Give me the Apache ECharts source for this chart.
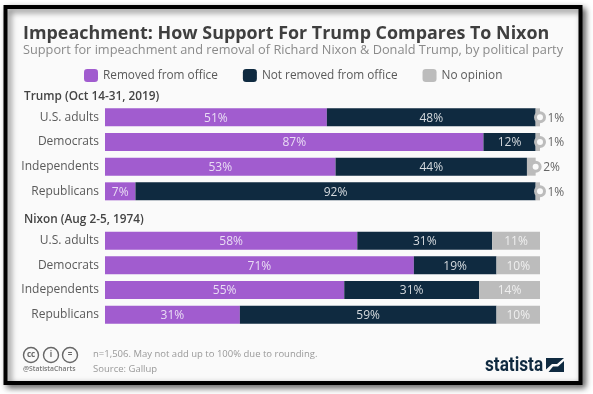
<!DOCTYPE html>
<html><head><meta charset="utf-8">
<style>html,body{margin:0;padding:0;background:#fff}#c{width:593px;height:394px}</style>
<script src="https://cdn.jsdelivr.net/npm/echarts@6/dist/echarts.min.js"></script>
</head><body><div id="c"></div>
<script>
const categories = ['U.S. adults','Democrats','Independents','Republicans','','U.S. adults','Democrats','Independents','Republicans'];
const removed    = [51,87,53,7,null,58,71,55,31];
const notRemoved = [48,12,44,92,null,31,19,31,59];
const noOpinion  = [1,1,2,1,null,11,10,14,10];
const outsideLabelRows = [0,1,2,3];
const seriesNames = ['Removed from office','Not removed from office','No opinion'];
const colors = ['#a15ccf','#0f2a40','#bcbcbc'];
const titleText = 'Impeachment: How Support For Trump Compares To Nixon';
const subtitleText = 'Support for impeachment and removal of Richard Nixon & Donald Trump, by political party';
const groupTrump = 'Trump (Oct 14-31, 2019)';
const groupNixon = 'Nixon (Aug 2-5, 1974)';
const noteText = 'n=1,506. May not add up to 100% due to rounding.';
const sourceText = 'Source: Gallup';

const FONT = '"Open Sans", sans-serif';
const chart = echarts.init(document.getElementById('c'), null, {renderer:'canvas'});

const barLabel = (color) => ({show:true, position:'inside', offset:[0,1], color, fontFamily:FONT, fontSize:12,
  formatter:p => p.value == null ? '' : p.value + '%'});

const ringData = outsideLabelRows.map(i => ({
  value:[removed[i]+notRemoved[i]+noOpinion[i], i], pct:noOpinion[i]
}));

const txt = (x,y,text,size,color,weight,extra) => ({type:'text', x, y, z:20, silent:true,
  style:Object.assign({text, fontFamily:FONT, fontSize:size, fill:color, fontWeight:weight||'normal', textVerticalAlign:'middle'}, extra||{})});

const ccIcon = (cx,label) => ([
  {type:'circle', z:20, shape:{cx,cy:355,r:7.5}, style:{fill:'none',stroke:'#666',lineWidth:1.4}},
  {type:'text', z:20, x:cx, y:355, style:{text:label,fontFamily:FONT,fontSize:8,fontWeight:'bold',fill:'#666',textAlign:'center',textVerticalAlign:'middle'}}
]);

chart.setOption({
  animation:false,
  backgroundColor:'#fff',
  title:[
    {text:titleText, left:18, top:20, textStyle:{fontFamily:FONT,fontSize:17.9,fontWeight:'bold',color:'#3f3f3f'}},
    {text:subtitleText, left:18, top:39, textStyle:{fontFamily:FONT,fontSize:12.75,fontWeight:'normal',color:'#8a8a8a'}}
  ],
  legend:{
    data:seriesNames, left:79, top:64, itemWidth:14, itemHeight:13, itemGap:25, icon:'roundRect',
    textStyle:{fontFamily:FONT,fontSize:11.8,color:'#5a5a5a',padding:[0,0,0,0]}
  },
  grid:{left:105, width:435, top:105, height:222},
  xAxis:{type:'value', min:0, max:100, show:false},
  yAxis:{type:'category', inverse:true, data:categories,
    axisLine:{show:false}, axisTick:{show:false}, splitLine:{show:false},
    axisLabel:{fontFamily:FONT,fontSize:12,color:'#5a5a5a',margin:6,interval:0,padding:[2,0,0,0]}},
  series:[
    {name:seriesNames[0],type:'bar',stack:'t',barWidth:18,data:removed,itemStyle:{color:colors[0]},label:barLabel('#e9dcf4')},
    {name:seriesNames[1],type:'bar',stack:'t',barWidth:18,data:notRemoved,itemStyle:{color:colors[1]},label:barLabel('#d5dade')},
    {name:seriesNames[2],type:'bar',stack:'t',barWidth:18,data:noOpinion.map((v,i)=>({value:v,
        label:{show:!outsideLabelRows.includes(i)}})),itemStyle:{color:colors[2]},label:barLabel('#efefef')},
    {name:'ring',type:'scatter',symbol:'circle',symbolSize:9,z:10,data:ringData,
      itemStyle:{color:'#fafafa',borderColor:colors[2],borderWidth:3,opacity:1},
      label:{show:true,position:'right',distance:1.5,offset:[0,1],fontFamily:FONT,fontSize:12,color:'#666',
        formatter:p=>p.data.pct+'%'}}
  ],
  graphic:[
    {type:'rect', z:-10, shape:{x:5.5,y:7,width:575,height:376},
      style:{fill:'#fafafa',stroke:'#000',lineWidth:4,shadowBlur:6,shadowColor:'rgba(0,0,0,0.55)',shadowOffsetX:3,shadowOffsetY:3}},
    txt(24,97,groupTrump,11.8,'#444','600'),
    txt(24,220,groupNixon,11.8,'#444','600'),
    ...ccIcon(31,'cc'), ...ccIcon(51,'i'), ...ccIcon(70,'='),
    txt(23,369,'@StatistaCharts',6.8,'#777','600'),
    txt(93,354,noteText,9.5,'#999'),
    txt(93,369,sourceText,9.5,'#999'),
    Object.assign(txt(485,365.5,'statista',20,'#0f2a40','bold',{fontFamily:'Roboto,sans-serif'}),{scaleX:0.86}),
    {type:'rect', z:20, shape:{x:546,y:358,width:18,height:14}, style:{fill:'#0f2a40'}},
    {type:'polygon', z:21, shape:{points:[[546,372],[546,369.5],[552,364],[557,364],[564,358],[564,361],[558,366.5],[553,366.5],[548.5,372]]}, style:{fill:'#fafafa'}}
  ]
});
</script></body></html>
